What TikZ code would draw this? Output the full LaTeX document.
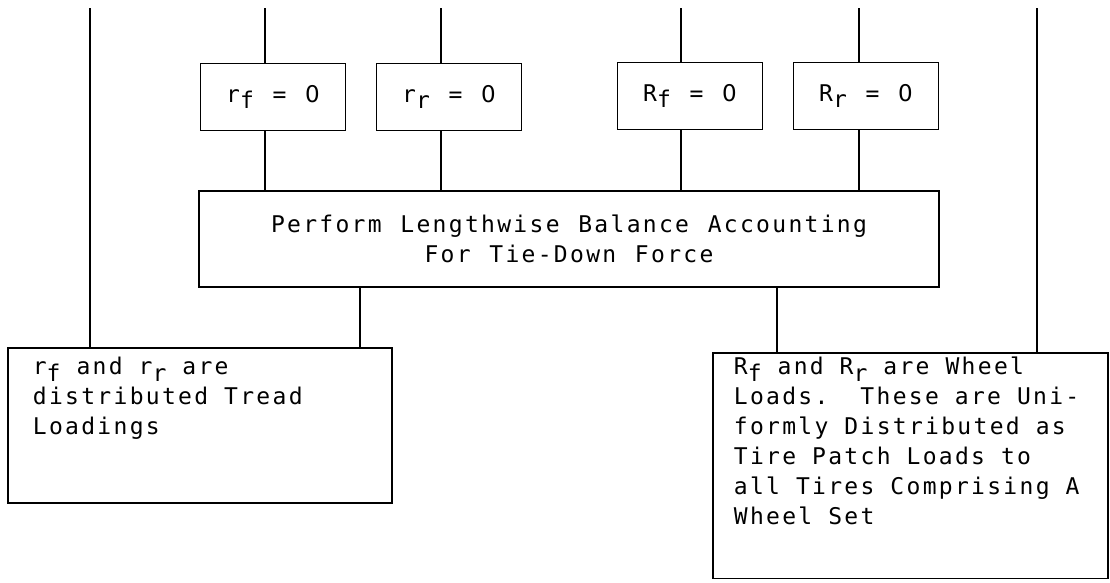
\documentclass[tikz,border=0pt]{standalone}
\usepackage{fontspec}
\usepackage{tikz}
\newfontfamily\typw[LetterSpace=10,WordSpace=1.16]{DejaVu Sans Mono}
\newfontfamily\zerofont[LetterSpace=10]{DejaVu Sans}
\newcommand{\sbs}[1]{\raisebox{-0.3em}{#1}}
\newcommand{\nil}{{\zerofont 0}}

\begin{document}
\begin{tikzpicture}[x=1pt, y=-1pt, line width=1.8pt,
    every node/.style={font=\typw\fontsize{23}{30}\selectfont},
    eqbox/.style={draw, minimum width=145pt, minimum height=67pt, inner sep=0pt},
    notebox/.style={draw, anchor=north west, align=left}]
    \useasboundingbox (0,0) rectangle (1110,582);

    % 1. Hang cac o dieu kien phia tren
    \node[eqbox] (rf) at (273,97) {r\sbs{f} = \nil};
    \node[eqbox] (rr) at (449,97) {r\sbs{r} = \nil};
    \node[eqbox] (Rf) at (690,96) {R\sbs{f} = \nil};
    \node[eqbox] (Rr) at (866,96) {R\sbs{r} = \nil};

    % 2. O can bang theo chieu dai
    \node[draw, minimum width=740pt, minimum height=96pt, align=center] (bal) at (569,239)
        {Perform Lengthwise Balance Accounting\\For Tie-Down Force};

    % 3. Hai o ghi chu phia duoi
    \node[notebox, inner xsep=25pt, inner ysep=9pt, text width=334pt, text depth=120pt] (lt) at (7,347)
        {\spaceskip=16pt\xspaceskip=16pt
         r\sbs{f} and r\sbs{r} are\\distributed Tread\\Loadings};
    \node[notebox, inner xsep=21pt, inner ysep=4pt, text width=353pt, text depth=200pt] (rt) at (712,352)
        {\spaceskip=16pt\xspaceskip=16pt
         R\sbs{f} and R\sbs{r} are Wheel\\Loads.~ These are Uni-\\formly Distributed as\\Tire Patch Loads to\\all Tires Comprising A\\Wheel Set};

    % 4. Cac duong noi thang dung
    \coordinate (top1) at (90,8);
    \coordinate (top2) at (265,8);
    \coordinate (top3) at (441,8);
    \coordinate (top4) at (681,8);
    \coordinate (top5) at (859,8);
    \coordinate (top6) at (1037,8);
    \coordinate (dn1) at (360,0);
    \coordinate (dn2) at (777,0);

    \draw (top1) -- (top1 |- lt.north);
    \draw (top2) -- (top2 |- rf.north);
    \draw (top3) -- (top3 |- rr.north);
    \draw (top4) -- (top4 |- Rf.north);
    \draw (top5) -- (top5 |- Rr.north);
    \draw (top6) -- (top6 |- rt.north);

    \draw (rf.south -| top2) -- (top2 |- bal.north);
    \draw (rr.south -| top3) -- (top3 |- bal.north);
    \draw (Rf.south -| top4) -- (top4 |- bal.north);
    \draw (Rr.south -| top5) -- (top5 |- bal.north);

    \draw (bal.south -| dn1) -- (dn1 |- lt.north);
    \draw (bal.south -| dn2) -- (dn2 |- rt.north);
\end{tikzpicture}
\end{document}
